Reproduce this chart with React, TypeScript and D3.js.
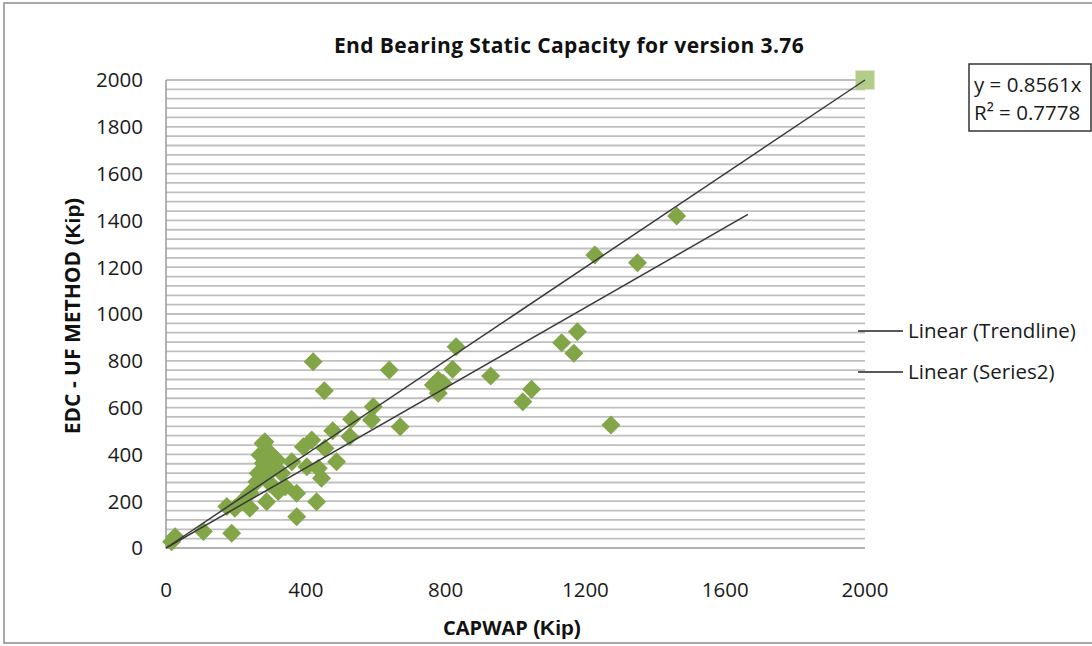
import * as d3 from "d3";

// CAPWAP (x) vs EDC - UF METHOD (y), kip
const capwapKip = [
  1461, 1227, 1349, 1177, 1132, 1167, 830, 820, 779, 765, 793, 779, 929, 1046, 1021, 1273,
  421, 639, 453, 593, 531, 588, 670, 477, 417, 526, 278, 393, 455, 360, 403, 436, 488, 445,
  374, 431, 374, 288, 240, 197, 174, 188, 107, 26, 16, 283, 269, 298, 317, 278, 307, 264,
  288, 331, 260, 298, 341, 321, 240, 217,
];
const edcKip = [
  1419, 1252, 1219, 924, 877, 832, 860, 764, 718, 697, 704, 661, 735, 678, 625, 526,
  796, 761, 672, 604, 550, 547, 518, 501, 462, 476, 447, 433, 426, 369, 347, 341, 369, 298,
  234, 198, 134, 198, 170, 170, 177, 63, 70, 48, 27, 454, 397, 405, 376, 362, 347, 319,
  312, 319, 283, 276, 262, 241, 234, 198,
];
// "Trendline" series (y = x reference) and Series2 linear fit
const trendX = [0, 2000];
const trendY = [0, 2000];
const fitSlope = 0.8561;
const fitRange = [0, 1665];
const rSquared = 0.7778;

const xTicks = [0, 400, 800, 1200, 1600, 2000];
const yTicks = [0, 200, 400, 600, 800, 1000, 1200, 1400, 1600, 1800, 2000];
const legendItems = ["Linear (Trendline)", "Linear (Series2)"];

const FONT = "'Open Sans', sans-serif";
const ARIAL = "'Liberation Sans', Arial, sans-serif";

export default function App() {
  const W = 1092;
  const H = 646;
  const x = d3.scaleLinear().domain([0, 2000]).range([166, 865]);
  const y = d3.scaleLinear().domain([0, 2000]).range([548, 80]);
  const grid = d3.range(40, 2001, 40);
  const green = "#82a548";

  const diamond = (cx: number, cy: number, r: number) =>
    `M${cx},${cy - r}L${cx + r},${cy}L${cx},${cy + r}L${cx - r},${cy}Z`;

  return (
    <svg
      width={W}
      height={H}
      style={{ position: "absolute", left: 0, top: 0, background: "#fff" }}
    >
      <rect x={4} y={3} width={1100} height={640} fill="#fff" stroke="#8c8c8c" strokeWidth={1.5} />

      {/* gridlines */}
      {grid.map((g) => (
        <line key={g} x1={x(0)} x2={x(2000)} y1={y(g)} y2={y(g)} stroke="#bfbfbf" strokeWidth={1.8} />
      ))}
      <line x1={x(0)} x2={x(0)} y1={y(0)} y2={y(2000)} stroke="#9a9a9a" strokeWidth={1.5} />
      <line x1={x(0)} x2={x(2000)} y1={y(0)} y2={y(0)} stroke="#9a9a9a" strokeWidth={1.5} />

      {/* ticks */}
      {yTicks.map((t) => (
        <text key={t} x={143} y={y(t)} dy="0.36em" textAnchor="end" fontFamily={FONT} fontSize={20.5} fill="#1a1a1a">
          {t}
        </text>
      ))}
      {xTicks.map((t) => (
        <text key={t} x={x(t)} y={590} dy="0.36em" textAnchor="middle" fontFamily={FONT} fontSize={20.5} fill="#1a1a1a">
          {t}
        </text>
      ))}

      {/* points */}
      {capwapKip.map((cx, i) => (
        <path key={i} d={diamond(x(cx), y(edcKip[i]), 9.5)} fill={green} />
      ))}
      <rect x={x(trendX[1]) - 9.5} y={y(trendY[1]) - 9.5} width={19} height={19} fill="#b3cc8a" />

      {/* lines */}
      <line x1={x(trendX[0])} y1={y(trendY[0])} x2={x(trendX[1])} y2={y(trendY[1])} stroke="#3a3a3a" strokeWidth={1.5} />
      <line
        x1={x(fitRange[0])}
        y1={y(fitRange[0] * fitSlope)}
        x2={x(fitRange[1])}
        y2={y(fitRange[1] * fitSlope)}
        stroke="#3a3a3a"
        strokeWidth={1.5}
      />

      {/* title */}
      <text x={569} y={45} dy="0.36em" textAnchor="middle" fontFamily={FONT} fontWeight="bold" fontSize={21} letterSpacing={0.4} fill="#111">
        End Bearing Static Capacity for version 3.76
      </text>

      {/* axis titles */}
      <text x={512} y={629} dy="0.36em" textAnchor="middle" fontWeight="bold" fill="#111">
        <tspan fontFamily={FONT} fontSize={20}>CAPWAP </tspan>
        <tspan fontFamily={ARIAL} fontSize={21}>(Kip)</tspan>
      </text>
      <text
        transform="translate(74,316) rotate(-90)"
        dy="0.36em"
        textAnchor="middle"
        fontWeight="bold"
        fill="#111"
      >
        <tspan fontFamily={FONT} fontSize={21}>EDC - UF METHOD </tspan>
        <tspan fontFamily={ARIAL} fontSize={21}>(Kip)</tspan>
      </text>

      {/* equation box */}
      <rect x={969} y={64} width={122} height={67} fill="#fff" stroke="#333" strokeWidth={1.5} />
      <text x={974} y={85} dy="0.36em" fontFamily={FONT} fontSize={20.5} fill="#1a1a1a">
        y = {fitSlope}x
      </text>
      <text x={974} y={113} dy="0.36em" fontFamily={FONT} fontSize={20.5} fill="#1a1a1a">
        R² = {rSquared}
      </text>

      {/* legend */}
      {legendItems.map((l, i) => (
        <g key={l} transform={`translate(0,${331 + i * 41})`}>
          <line x1={858} x2={903} y1={0} y2={0} stroke="#222" strokeWidth={1.5} />
          <text x={908} y={0} dy="0.36em" fontFamily={FONT} fontSize={20.5} fill="#1a1a1a">
            {l}
          </text>
        </g>
      ))}
    </svg>
  );
}
